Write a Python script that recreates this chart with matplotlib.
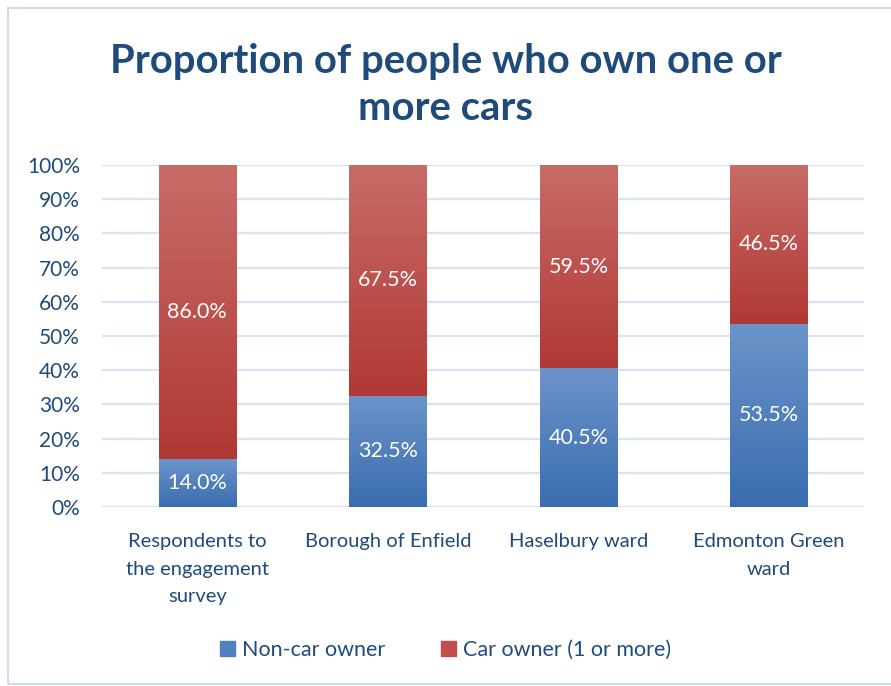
import numpy as np
import matplotlib
matplotlib.use("Agg")
from matplotlib import pyplot as plt
from matplotlib.colors import LinearSegmentedColormap
from matplotlib.patches import Rectangle

categories = ["Respondents to\nthe engagement\nsurvey", "Borough of Enfield",
              "Haselbury ward", "Edmonton Green\nward"]
non_car = [14.0, 32.5, 40.5, 53.5]
car_owner = [86.0, 67.5, 59.5, 46.5]
series_names = ["Non-car owner", "Car owner (1 or more)"]

plt.rcParams['font.family'] = ['Lato', 'DejaVu Sans']
text_col = "#1f4a7c"

fig = plt.figure(figsize=(8.91, 6.86), dpi=100)
ax = fig.add_axes([0.1145, 0.261, 0.8555, 0.4985])

x = np.arange(len(categories))
width = 0.405

blue_cmap = LinearSegmentedColormap.from_list("b", ["#3a6db0", "#6b94c9"])
red_cmap = LinearSegmentedColormap.from_list("r", ["#b13834", "#c86c68"])

b1 = ax.bar(x, non_car, width, color="#4f81bd", label=series_names[0], zorder=2)
b2 = ax.bar(x, car_owner, width, bottom=non_car, color="#c0504d", label=series_names[1], zorder=2)

# gradient fill on each segment
grad = np.linspace(0, 1, 256).reshape(-1, 1)
for bars, cmap in [(b1, blue_cmap), (b2, red_cmap)]:
    for p in bars:
        x0, y0, w, h = p.get_x(), p.get_y(), p.get_width(), p.get_height()
        ax.imshow(grad, cmap=cmap, origin="lower", aspect="auto",
                  extent=[x0, x0 + w, y0, y0 + h], zorder=3)

for i in range(len(categories)):
    ax.text(x[i], non_car[i] / 2, f"{non_car[i]:.1f}%", ha="center", va="center",
            color="white", fontsize=15.5, zorder=4)
    ax.text(x[i], non_car[i] + car_owner[i] / 2, f"{car_owner[i]:.1f}%", ha="center",
            va="center", color="white", fontsize=15.5, zorder=4)

ax.set_xlim(-0.5, 3.5)
ax.set_ylim(0, 100)
ax.set_yticks(np.arange(0, 101, 10))
ax.set_yticklabels([f"{v}%" for v in range(0, 101, 10)])
ax.yaxis.grid(True, color="#d9e3f2", linewidth=1.6, zorder=0)
ax.set_axisbelow(True)
for s in ax.spines.values():
    s.set_visible(False)
ax.tick_params(axis="y", length=0, pad=16, labelsize=15, labelcolor=text_col)
ax.tick_params(axis="x", length=0, pad=19, labelsize=14.5, labelcolor=text_col)
ax.set_xticks(x)
ax.set_xticklabels(categories, linespacing=1.75, va="top")

fig.text(0.5, 0.876, "Proportion of people who own one or\nmore cars", ha="center", va="center",
         fontsize=28.8, fontweight="bold", color=text_col, linespacing=1.36)

handles = [Rectangle((0, 0), 1, 1, color="#4f81bd"), Rectangle((0, 0), 1, 1, color="#c0504d")]
fig.legend(handles, series_names, loc="center", bbox_to_anchor=(0.5, 0.052), ncol=2,
           frameon=False, fontsize=15.5, labelcolor=text_col, handlelength=0.7,
           handleheight=0.7, handletextpad=0.3, columnspacing=2.6)

fig.patches.append(Rectangle((0.009, 0.003), 1.0, 0.985, transform=fig.transFigure,
                             fill=False, edgecolor="#d0dcec", linewidth=1.5))

fig.savefig("out.png", dpi=100)
